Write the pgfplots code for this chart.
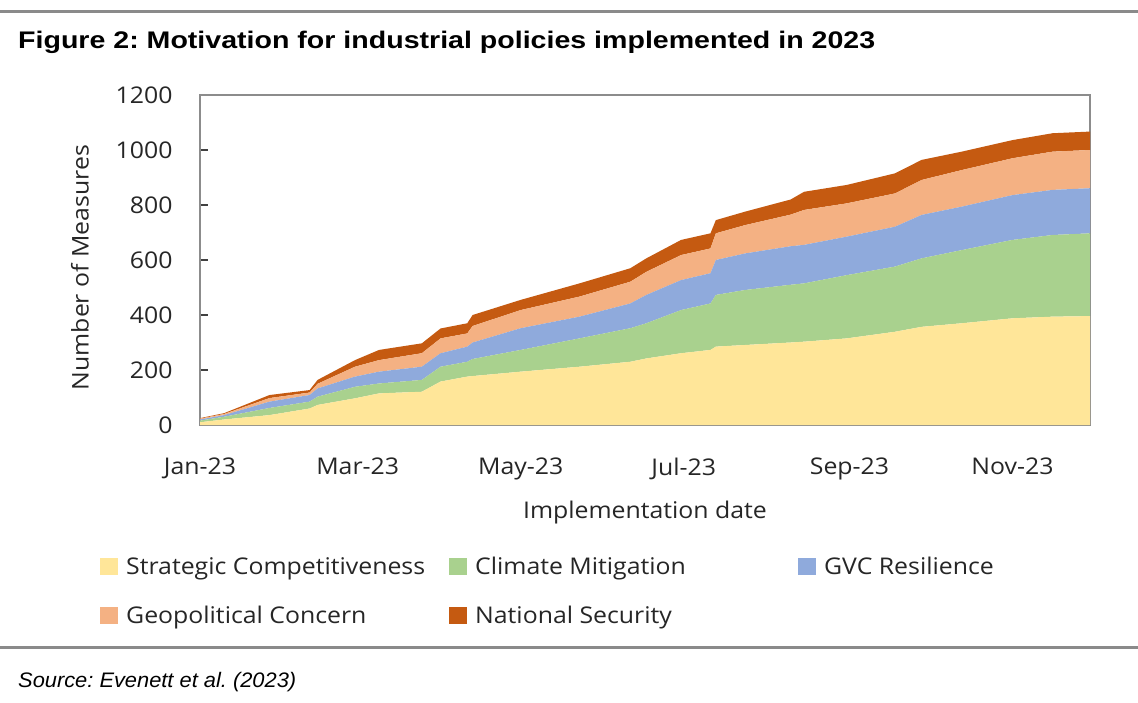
\documentclass[border=0pt]{standalone}
\usepackage{pgfplots}
\pgfplotsset{compat=1.18}
\usepackage{pgfplotstable}
\usepackage{fontspec}
\setmainfont{Open Sans}[FakeStretch=1.08]
\newfontfamily\titlefont{Liberation Sans}[FakeStretch=1.19]
\newfontfamily\srcfont{Liberation Sans}[FakeStretch=1.04]
\definecolor{cSC}{HTML}{FFE699}
\definecolor{cCM}{HTML}{A9D18E}
\definecolor{cGVC}{HTML}{8FAADC}
\definecolor{cGEO}{HTML}{F4B183}
\definecolor{cNS}{HTML}{C55A11}
\definecolor{rulegray}{HTML}{8A8A8A}
\definecolor{boxgray}{HTML}{8C8C8C}
\definecolor{txt}{HTML}{262626}

\pgfplotstableread{
day sc cm gvc geo ns
0 10 6 4 3 2
9 20 10 6 4 3
26 36 26 23 13 11
41 60 25 24 9 9
44 73 30 30 17 14
58 97 42 37 36 24
67 115 36 43 42 37
83 121 43 48 49 36
90 158 54 49 54 36
100 176 54 55 48 37
102 178 62 60 60 40
120 194 79 79 66 37
142 212 103 79 73 48
161 230 122 90 79 49
167 242 128 103 84 49
180 261 157 109 91 55
191 273 169 110 90 55
193 285 188 127 97 48
204 291 200 133 103 49
221 300 210 140 115 55
226 303 212 140 127 66
242 315 230 140 121 67
260 339 237 145 121 73
270 357 249 158 127 73
285 370 266 158 133 67
304 388 285 163 134 66
319 394 297 164 139 67
333 396 301 164 139 67
}\datatable

\begin{document}
\frenchspacing
\begin{tikzpicture}
\path[use as bounding box] (0pt,0pt) rectangle (1138pt,-702pt);
\fill[white] (0pt,0pt) rectangle (1138pt,-702pt);
\draw[line width=3pt, color=rulegray] (0pt,-11pt) -- (1138pt,-11pt);
\draw[line width=3pt, color=rulegray] (0pt,-647pt) -- (1138pt,-647pt);
\node[anchor=west, inner sep=0pt] at (18pt,-42pt) {\titlefont\bfseries\fontsize{24}{28}\selectfont Figure 2: Motivation for industrial policies implemented in 2023};
\node[anchor=west, inner sep=0pt] at (18pt,-682pt) {\srcfont\itshape\fontsize{21}{25}\selectfont Source: Evenett et al. (2023)};
\begin{axis}[
  at={(200pt,-425pt)}, anchor=south west,
  scale only axis, width=890pt, height=330pt,
  xmin=0, xmax=333, ymin=0, ymax=1200,
  stack plots=y,
  axis line style={draw=boxgray, line width=1.6pt},
  tick align=inside, xtick pos=left, ytick pos=left,
  major tick length=8pt,
  tick style={draw=black!75, line width=1.2pt},
  xtick={0,59,120,181,243,304},
  xticklabels={Jan-23,Mar-23,May-23,Jul-23,Sep-23,Nov-23},
  ytick={0,200,400,600,800,1000,1200},
  /pgf/number format/assume math mode=true,
  /pgf/number format/1000 sep={},
  ticklabel style={font=\fontsize{23}{27}\selectfont, text=txt},
  yticklabel style={xshift=-24pt},
  xticklabel style={yshift=-29pt},
  xlabel={Implementation date},
  ylabel={Number of Measures},
  label style={font=\fontsize{23}{27}\selectfont, text=txt},
  xlabel style={at={(axis description cs:0.5,-0.264)}, anchor=center},
  ylabel style={at={(axis description cs:-0.1348,0.477)}, anchor=center},
  legend columns=3,
  legend cell align=left,
  legend style={at={(axis description cs:-0.1124,-0.394)}, anchor=north west,
    draw=none, fill=none, inner sep=0pt, row sep=26pt,
    font=\fontsize{23}{27}\selectfont, text=txt,
    /tikz/every odd column/.append style={column sep=6pt}},
  legend image code/.code={\fill[#1] (0pt,-8.5pt) rectangle (18pt,8.5pt);},
]
\addplot[fill=cSC, draw=none] table[x=day, y=sc] {\datatable} \closedcycle;
\addlegendentry{\makebox[321pt][l]{Strategic Competitiveness}}
\addplot[fill=cCM, draw=none] table[x=day, y=cm] {\datatable} \closedcycle;
\addlegendentry{\makebox[321pt][l]{Climate Mitigation}}
\addplot[fill=cGVC, draw=none] table[x=day, y=gvc] {\datatable} \closedcycle;
\addlegendentry{GVC Resilience}
\addplot[fill=cGEO, draw=none] table[x=day, y=geo] {\datatable} \closedcycle;
\addlegendentry{\makebox[321pt][l]{Geopolitical Concern}}
\addplot[fill=cNS, draw=none] table[x=day, y=ns] {\datatable} \closedcycle;
\addlegendentry{National Security}
\end{axis}
\end{tikzpicture}
\end{document}
